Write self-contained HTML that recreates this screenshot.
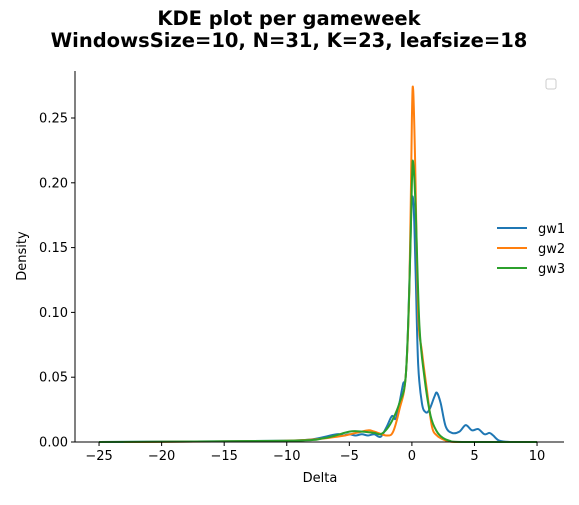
<!DOCTYPE html>
<html><head><meta charset="utf-8"><style>
body{margin:0;background:#fff;font-family:"Liberation Sans","DejaVu Sans",sans-serif}
</style></head><body>
<svg width="579" height="500" xmlns="http://www.w3.org/2000/svg" font-family="DejaVu Sans, Liberation Sans, sans-serif">
<text x="289" y="25" text-anchor="middle" font-size="19.5" font-weight="bold">KDE plot per gameweek</text>
<text x="289" y="47" text-anchor="middle" font-size="19.5" font-weight="bold">WindowsSize=10, N=31, K=23, leafsize=18</text>
<g id="plot"></g>
<rect x="546" y="79" width="10" height="10" rx="2" fill="none" stroke="#ccc"/>
<g>
<line x1="497" y1="228" x2="527" y2="228" stroke="#1f77b4" stroke-width="2"/>
<text x="538" y="233" font-size="13">gw1</text>
<line x1="497" y1="248" x2="527" y2="248" stroke="#ff7f0e" stroke-width="2"/>
<text x="538" y="253" font-size="13">gw2</text>
<line x1="497" y1="268" x2="527" y2="268" stroke="#2ca02c" stroke-width="2"/>
<text x="538" y="273" font-size="13">gw3</text>
</g>
<text x="320" y="482" text-anchor="middle" font-size="13">Delta</text>
<text transform="translate(26,256) rotate(-90)" text-anchor="middle" font-size="13">Density</text>
</svg>
<script>
const xTicks=[-25,-20,-15,-10,-5,0,5,10];
const yTicks=[0,0.05,0.10,0.15,0.20,0.25];
const yTickLabels=["0.00","0.05","0.10","0.15","0.20","0.25"];
const gw1X=[-25,-15,-10,-8,-6,-5.5,-5,-4.5,-4,-3.5,-3,-2.5,-2,-1.6,-1.3,-1,-0.7,-0.5,-0.3,-0.1,0,0.15,0.3,0.5,0.8,1.1,1.4,1.8,2,2.3,2.7,3.2,3.8,4.3,4.8,5.3,5.8,6.2,6.5,7,8,10];
const gw1Y=[0,0.0005,0.001,0.002,0.006,0.005,0.006,0.005,0.006,0.005,0.006,0.004,0.012,0.02,0.018,0.03,0.045,0.05,0.09,0.16,0.188,0.18,0.13,0.06,0.03,0.023,0.025,0.035,0.038,0.03,0.012,0.007,0.008,0.013,0.009,0.01,0.006,0.007,0.005,0.001,0,0];
const gw2X=[-23,-10,-6,-4.5,-3.5,-3,-2,-1.5,-1,-0.5,-0.2,0,0.1,0.25,0.5,0.8,1.2,1.6,2,2.5,3,4,10];
const gw2Y=[0,0.001,0.004,0.007,0.009,0.008,0.005,0.008,0.025,0.05,0.12,0.25,0.272,0.22,0.1,0.07,0.04,0.012,0.005,0.002,0.0005,0,0];
const gw3X=[-25,-10,-7,-5,-4,-3,-2.5,-2,-1.5,-1,-0.5,-0.2,0,0.1,0.3,0.6,1,1.5,2,2.5,3,4,10];
const gw3Y=[0,0.001,0.003,0.008,0.008,0.007,0.006,0.01,0.018,0.03,0.05,0.12,0.2,0.216,0.18,0.09,0.05,0.02,0.008,0.003,0.001,0,0];
const NS="http://www.w3.org/2000/svg";
const L=75,R=564,T=71,B=442;
const sx=v=>411.9+v*12.514;
const sy=v=>B-v*1296;
const g=document.getElementById('plot');
function mk(t,a){const e=document.createElementNS(NS,t);for(const k in a)e.setAttribute(k,a[k]);g.appendChild(e);return e;}
function path(xs,ys){let p=xs.map((x,i)=>[sx(x),sy(ys[i])]);let d="M"+p[0][0]+","+p[0][1];
for(let i=0;i<p.length-1;i++){const p0=p[Math.max(0,i-1)],p1=p[i],p2=p[i+1],p3=p[Math.min(p.length-1,i+2)];
const c1=[p1[0]+(p2[0]-p0[0])/6,p1[1]+(p2[1]-p0[1])/6],c2=[p2[0]-(p3[0]-p1[0])/6,p2[1]-(p3[1]-p1[1])/6];
c1[1]=Math.min(c1[1],B);c2[1]=Math.min(c2[1],B);
d+=` C${c1[0]},${c1[1]} ${c2[0]},${c2[1]} ${p2[0]},${p2[1]}`;}return d;}
const series=[[gw1X,gw1Y,"#1f77b4","gw1"],[gw2X,gw2Y,"#ff7f0e","gw2"],[gw3X,gw3Y,"#2ca02c","gw3"]];
series.forEach(s=>{const e=mk('path',{d:path(s[0],s[1]),fill:'none',stroke:s[2],'stroke-width':2});

});
let e=mk('line',{x1:L,y1:T,x2:L,y2:B,stroke:'#000','stroke-width':1});


e=mk('line',{x1:L,y1:B,x2:R,y2:B,stroke:'#000','stroke-width':1});


xTicks.forEach(v=>{mk('line',{x1:sx(v),y1:B,x2:sx(v),y2:B+4,stroke:'#000'});
const t=mk('text',{x:sx(v),y:B+18,'text-anchor':'middle','font-size':13});t.textContent=String(v).replace('-','\u2212');

});
yTicks.forEach((v,i)=>{mk('line',{x1:L-4,y1:sy(v),x2:L,y2:sy(v),stroke:'#000'});
const t=mk('text',{x:L-7,y:sy(v)+4.5,'text-anchor':'end','font-size':13});t.textContent=yTickLabels[i];

});
</script>
</body></html>
